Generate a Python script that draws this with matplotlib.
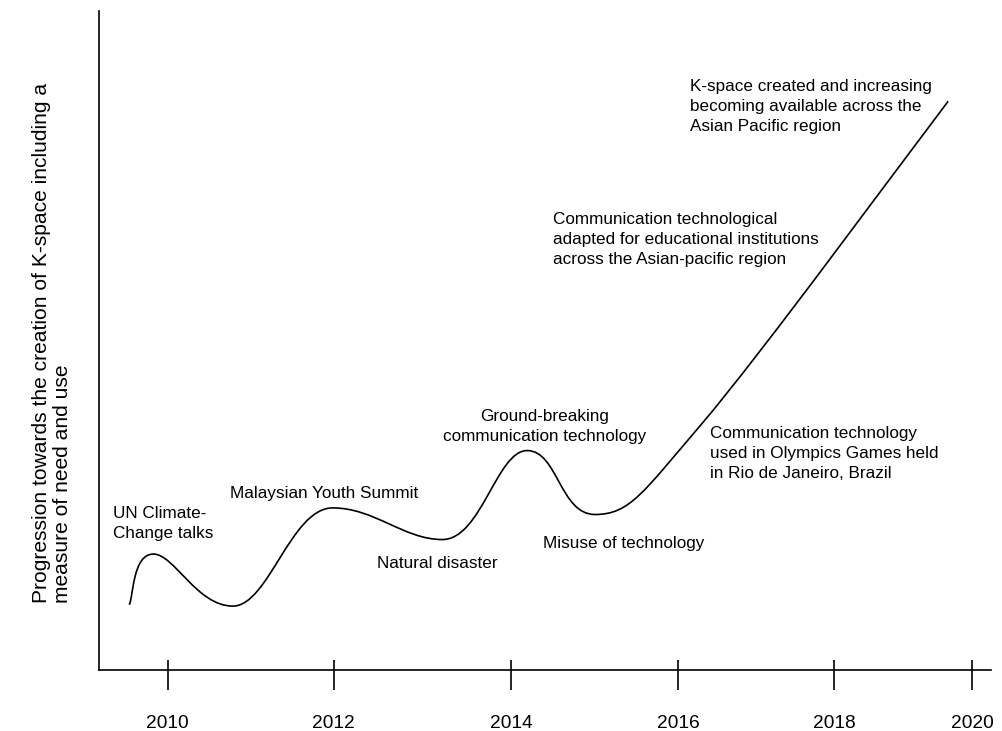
import numpy as np
import matplotlib.pyplot as plt
from matplotlib.path import Path
from matplotlib.patches import PathPatch

plt.rcParams['font.family'] = ['Liberation Sans', 'DejaVu Sans']

# key points of the progression curve (arbitrary units, axis spans 0-10)
curve_x = [0.34, 0.61, 1.50, 2.62, 3.85, 4.80, 5.56, 6.76, 9.52]
curve_y = [0.99, 1.76, 0.97, 2.46, 1.98, 3.33, 2.36, 3.74, 8.63]

tick_pos = [0.77, 2.63, 4.62, 6.49, 8.24, 9.79]
tick_labels = ['2010', '2012', '2014', '2016', '2018', '2020']

events = [
    'UN Climate-\nChange talks',
    'Malaysian Youth Summit',
    'Natural disaster',
    'Ground-breaking\ncommunication technology',
    'Misuse of technology',
    'Communication technology\nused in Olympics Games held\nin Rio de Janeiro, Brazil',
    'Communication technological\nadapted for educational institutions\nacross the Asian-pacific region',
    'K-space created and increasing\nbecoming available across the\nAsian Pacific region',
]
event_x = [0.16, 1.47, 3.12, 5.00, 4.98, 6.85, 5.09, 6.63]
event_y = [2.49, 2.79, 1.73, 3.96, 2.04, 3.70, 6.95, 8.97]
event_ha = ['left', 'left', 'left', 'center', 'left', 'left', 'left', 'left']

y_label = 'Progression towards the creation of K-space including a\nmeasure of need and use'


def smooth_path(xs, ys):
    # Catmull-Rom through the key points as cubic Bezier segments,
    # with level tangents at the peaks and troughs
    pts = np.column_stack([xs, ys]).astype(float)
    n = len(pts)
    tan = np.zeros_like(pts)
    for i in range(n):
        a = pts[max(i - 1, 0)]
        b = pts[min(i + 1, n - 1)]
        tan[i] = (b - a) / 6
        if 0 < i < n - 1 and (pts[i, 1] - a[1]) * (b[1] - pts[i, 1]) < 0:
            tan[i] = [(b[0] - a[0]) / 5, 0]
    verts = [pts[0]]
    codes = [Path.MOVETO]
    for i in range(n - 1):
        verts += [pts[i] + tan[i], pts[i + 1] - tan[i + 1], pts[i + 1]]
        codes += [Path.CURVE4] * 3
    return Path(verts, codes)


fig = plt.figure(figsize=(10.02, 7.31), dpi=100)
ax = fig.add_axes([0.0988, 0.0834, 0.8902, 0.9016])

ax.add_patch(PathPatch(smooth_path(curve_x, curve_y), facecolor='none',
                       edgecolor='black', lw=1.2))

for label, x, y, ha in zip(events, event_x, event_y, event_ha):
    ax.text(x, y, label, ha=ha, va='top', multialignment=ha,
            fontsize=12.3, linespacing=1.42)

ax.set_xlim(0, 10)
ax.set_ylim(0, 10)
for side in ('top', 'right'):
    ax.spines[side].set_visible(False)
for side in ('left', 'bottom'):
    ax.spines[side].set_linewidth(1.2)

ax.set_yticks([])
ax.set_xticks(tick_pos)
ax.set_xticklabels(tick_labels)
ax.set_xticks(tick_pos, minor=True)
ax.xaxis.remove_overlapping_locs = False
ax.tick_params(axis='x', which='major', direction='out', length=14.4,
               width=1.2, pad=18, labelsize=13.8)
ax.tick_params(axis='x', which='minor', direction='in', length=7.2, width=1.2)

fig.text(52 / 1002, 1 - 603 / 731, y_label, rotation=90, ha='center',
         va='bottom', multialignment='left', fontsize=15.1, linespacing=1.15)

plt.savefig('out.png', dpi=100)
